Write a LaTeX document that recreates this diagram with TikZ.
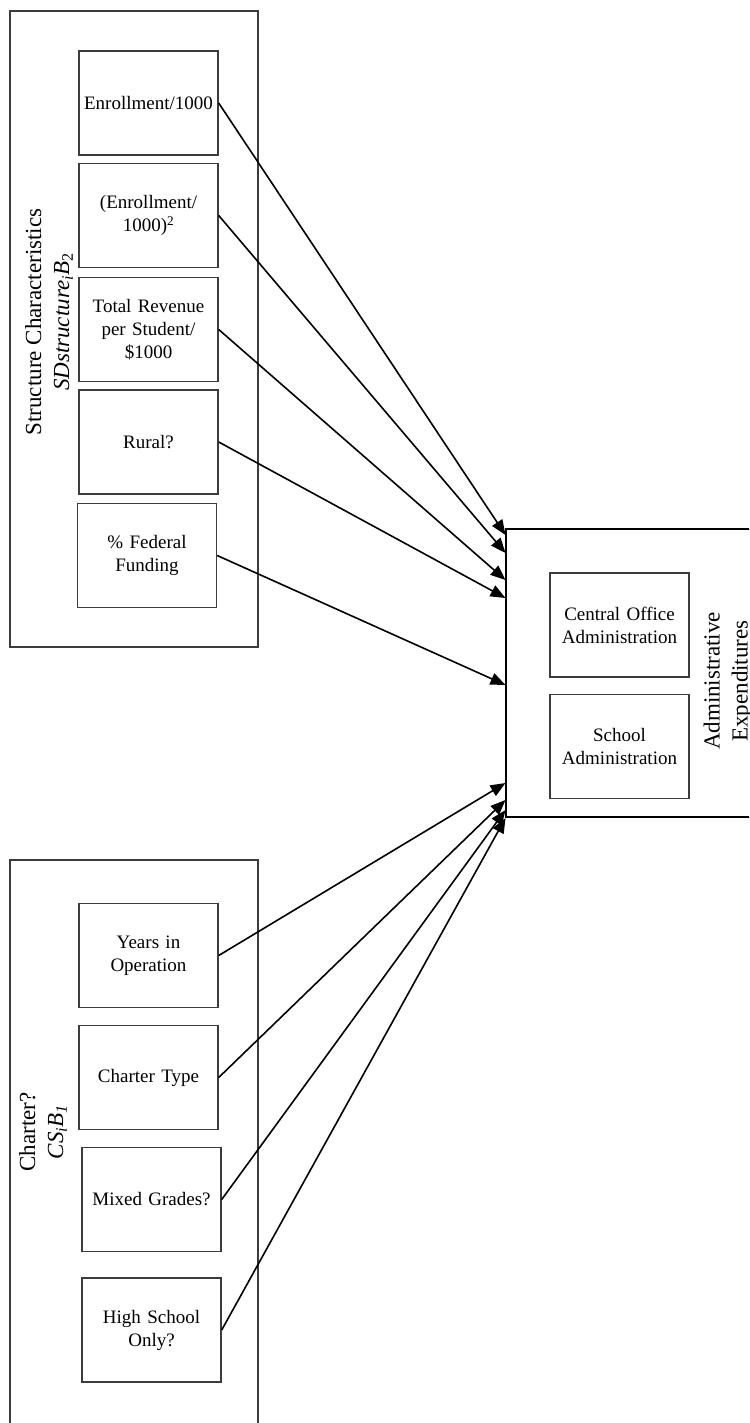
\documentclass[tikz,border=0pt]{standalone}
\usepackage{fontspec}
\setmainfont{Liberation Serif}
\usetikzlibrary{arrows.meta}
\definecolor{boxgray}{RGB}{60,60,60}
\tikzset{
  vbox/.style={draw=boxgray, line width=1.4pt, minimum width=139pt, minimum height=104pt,
    inner sep=2pt, align=center, text width=135pt, font=\fontsize{19}{23}\selectfont},
  outerbox/.style={draw=boxgray, line width=1.4pt, inner sep=0pt},
  biglabel/.style={rotate=90, align=center, font=\fontsize{23}{28}\selectfont},
  conn/.style={line width=1.6pt, -{Triangle[length=15pt,width=12pt]}}
}
\begin{document}
\begin{tikzpicture}[x=1pt,y=-1pt]
\clip (0,0) rectangle (749,1423);
\fill[white] (0,0) rectangle (749,1423);
% outer boxes
\node[outerbox, minimum width=248pt, minimum height=636pt] (top) at (134,329) {};
\node[outerbox, minimum width=248pt, minimum height=580pt] (bot) at (134,1150) {};
\node[outerbox, draw=black, minimum width=294pt, minimum height=288pt] (rb) at (653,673) {};
% labels
\node[biglabel] (toplab) at (49,322) {Structure Characteristics\\\textit{SDstructure}\textsubscript{\textit{i}}\textit{B}\textsubscript{2}};
\node[biglabel] (botlab) at (43,1132) {Charter?\\\textit{CS}\textsubscript{\textit{i}}\textit{B}\textsubscript{\textit{1}}};
\node[biglabel] (rblab) at (728,681) {Administrative\\Expenditures};
% structure boxes
\node[vbox] (b1) at (148.5,103) {Enrollment/1000};
\node[vbox] (b2) at (148.5,215.5) {(Enrollment/\\1000)\textsuperscript{2}};
\node[vbox] (b3) at (148.5,329.5) {Total Revenue\\per Student/\\\$1000};
\node[vbox] (b4) at (148.5,442) {Rural?};
\node[vbox] (b5) at (147,555.5) {\% Federal\\Funding};
% admin boxes
\node[vbox] (c1) at (619.5,625) {Central Office\\Administration};
\node[vbox] (c2) at (619.5,746.5) {School\\Administration};
% charter boxes
\node[vbox] (d1) at (148.5,955.5) {Years in\\Operation};
\node[vbox] (d2) at (148.5,1077.5) {Charter Type};
\node[vbox] (d3) at (151.5,1199.5) {Mixed Grades?};
\node[vbox] (d4) at (151.5,1330) {High School\\Only?};
% arrow targets on the left edge of the admin box
\coordinate (e1) at (505.5,535);
\coordinate (e2) at (505.5,553);
\coordinate (e3) at (505.5,580);
\coordinate (e4) at (505.5,598);
\coordinate (e5) at (505.5,685);
\coordinate (f1) at (505.5,783);
\coordinate (f2) at (505.5,800);
\coordinate (f3) at (505.5,810);
\coordinate (f4) at (505.5,818);
% connectors
\draw[conn] (b1.east) -- (e1);
\draw[conn] (b2.east) -- (e2);
\draw[conn] (b3.east) -- (e3);
\draw[conn] (b4.east) -- (e4);
\draw[conn] (b5.east) -- (e5);
\draw[conn] (d1.east) -- (f1);
\draw[conn] (d2.east) -- (f2);
\draw[conn] (d3.east) -- (f3);
\draw[conn] (d4.east) -- (f4);
\end{tikzpicture}
\end{document}
